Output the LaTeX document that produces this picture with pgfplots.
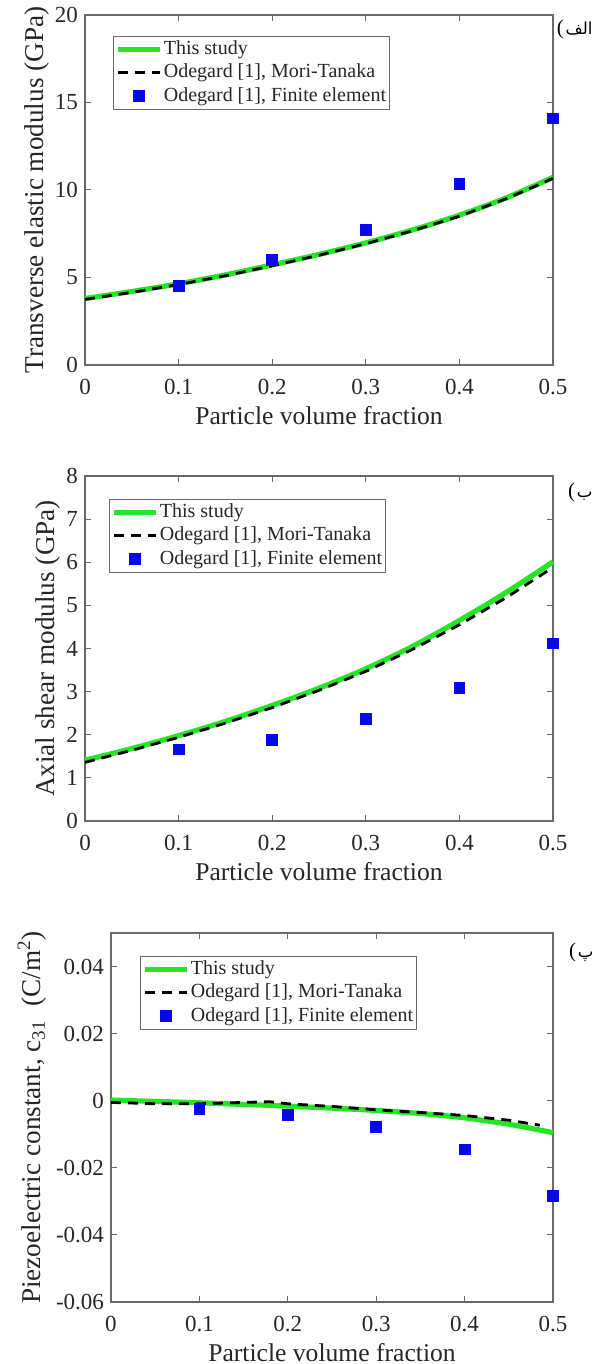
\documentclass[border=0pt]{standalone}
\usepackage{fontspec}
\setmainfont{Liberation Serif}
\newfontfamily\arabicfont[Script=Arabic]{DejaVu Sans}
\TeXXeTstate=1
\usepackage{pgfplots}
\pgfplotsset{compat=1.18}

\definecolor{matgreen}{RGB}{38,228,38}
\definecolor{matblue}{RGB}{8,8,235}
\definecolor{axgray}{RGB}{105,105,105}
\definecolor{txt}{RGB}{38,38,38}

\tikzset{
  tag/.style={anchor=base east, inner sep=0pt, font=\arabicfont\fontsize{8.3}{9}\selectfont, text=black},
  paren/.style={anchor=base east, inner sep=0pt, font=\fontsize{10.5}{12}\selectfont, text=black, xshift=-0.5pt},
}

\pgfplotsset{
  panel/.style={
    scale only axis,
    width=234pt,
    xmin=0, xmax=0.5,
    xtick={0,0.1,0.2,0.3,0.4,0.5},
    tick align=inside,
    axis line style={axgray, line width=0.6pt},
    major tick style={axgray, line width=0.5pt},
    major tick length=2.8pt,
    tick label style={font=\fontsize{11.5}{13}\selectfont, text=txt},
    xticklabel style={yshift=-3.5pt},
    xlabel style={font=\fontsize{12.8}{14}\selectfont, text=txt, yshift=1pt},
    ylabel style={font=\fontsize{13.6}{15}\selectfont, text=txt},
    ylabel shift=-4pt,
    /pgf/number format/assume math mode=true,
    xlabel={Particle volume fraction},
    clip=false,
    legend cell align=left,
    legend style={at={(rel axis cs:0,1)}, anchor=north west,
      draw=axgray, line width=0.5pt, inner sep=1pt,
      font=\fontsize{10}{11}\selectfont, text=txt, row sep=0.8pt,
      nodes={inner sep=0.6pt, text height=7.4pt, text depth=2.3pt}},
    legend image code/.code={\draw[mark repeat=2,mark phase=2,#1]
      plot coordinates {(0pt,0pt) (10.5pt,0pt) (21pt,0pt)};},
  },
  study/.style={color=matgreen, line width=2.6pt, no marks, smooth},
  mt/.style={black, line width=1.4pt, dash pattern=on 5pt off 3.5pt, no marks},
  fe/.style={only marks, mark=square*, mark size=2.7pt, color=matblue},
}

\begin{document}
\begin{tikzpicture}
\path[use as bounding box] (0,0) rectangle (301pt,-682pt);

% (a) transverse elastic modulus
\begin{axis}[panel, at={(42.5pt,-182.5pt)}, anchor=south west, height=175pt,
  ymin=0, ymax=20, ytick={0,5,10,15,20},
  ylabel={Transverse elastic modulus (GPa)},
  legend style={xshift=14pt, yshift=-10.5pt}]
\addplot[study] coordinates {
  (0,3.80) (0.05,4.20) (0.1,4.64) (0.15,5.15) (0.2,5.72) (0.25,6.32)
  (0.3,6.98) (0.35,7.72) (0.4,8.56) (0.45,9.55) (0.5,10.72)};
\addlegendentry{This study}
\addplot[mt] coordinates {
  (0,3.75) (0.05,4.15) (0.1,4.60) (0.15,5.10) (0.2,5.67) (0.25,6.27)
  (0.3,6.93) (0.35,7.67) (0.4,8.50) (0.45,9.50) (0.5,10.66)};
\addlegendentry{Odegard [1], Mori-Tanaka}
\addplot[fe] coordinates {
  (0.1,4.52) (0.2,6.02) (0.3,7.73) (0.4,10.37) (0.5,14.09)};
\addlegendentry{Odegard [1], Finite element}
\node[tag, xshift=20pt, yshift=-10pt] (ta) at (rel axis cs:1,1) {\beginR الف\endR};
\node[paren] at (ta.base west) {(};
\end{axis}

% (b) axial shear modulus
\begin{axis}[panel, at={(42.5pt,-410.5pt)}, anchor=south west, height=172.5pt,
  ymin=0, ymax=8, ytick={0,1,2,3,4,5,6,7,8},
  ylabel={Axial shear modulus (GPa)},
  legend style={xshift=12pt, yshift=-11.5pt}]
\addplot[study] coordinates {
  (0,1.41) (0.05,1.68) (0.1,1.98) (0.15,2.31) (0.2,2.68) (0.25,3.08)
  (0.3,3.53) (0.35,4.05) (0.4,4.65) (0.45,5.30) (0.5,6.01)};
\addlegendentry{This study}
\addplot[mt] coordinates {
  (0,1.36) (0.05,1.64) (0.1,1.94) (0.15,2.27) (0.2,2.63) (0.25,3.03)
  (0.3,3.47) (0.35,3.98) (0.4,4.55) (0.45,5.18) (0.5,5.88)};
\addlegendentry{Odegard [1], Mori-Tanaka}
\addplot[fe] coordinates {
  (0.1,1.66) (0.2,1.89) (0.3,2.37) (0.4,3.08) (0.5,4.12)};
\addlegendentry{Odegard [1], Finite element}
\node[tag, xshift=20pt, yshift=-10.5pt] (tb) at (rel axis cs:1,1) {\beginR ب\endR};
\node[paren] at (tb.base west) {(};
\end{axis}

% (c) piezoelectric constant
\begin{axis}[panel, at={(55.5pt,-651pt)}, anchor=south west, width=221pt, height=184.5pt,
  ymin=-0.06, ymax=0.05, ytick={-0.06,-0.04,-0.02,0,0.02,0.04},
  scaled y ticks=false,
  yticklabel style={/pgf/number format/fixed, /pgf/number format/precision=2},
  ylabel={Piezoelectric constant, c\textsubscript{31}~~(C/m\textsuperscript{2})},
  ylabel shift=-2pt,
  legend style={xshift=14.5pt, yshift=-11.5pt}]
\addplot[study] coordinates {
  (0,0.0002) (0.05,-0.0002) (0.1,-0.0006) (0.15,-0.0011) (0.2,-0.0016)
  (0.25,-0.0022) (0.3,-0.0029) (0.35,-0.0038) (0.4,-0.0051) (0.45,-0.0070) (0.5,-0.0095)};
\addlegendentry{This study}
\addplot[mt] coordinates {
  (0,-0.0005) (0.05,-0.0009) (0.1,-0.0009) (0.15,-0.0005) (0.18,-0.0003)
  (0.2,-0.0009) (0.25,-0.0017) (0.3,-0.0027) (0.35,-0.0035) (0.4,-0.0044)
  (0.45,-0.0058) (0.485,-0.0073)};
\addlegendentry{Odegard [1], Mori-Tanaka}
\addplot[fe] coordinates {
  (0.1,-0.0024) (0.2,-0.0042) (0.3,-0.0077) (0.4,-0.0145) (0.5,-0.0284)};
\addlegendentry{Odegard [1], Finite element}
\node[tag, xshift=20.5pt, yshift=-12pt] (tc) at (rel axis cs:1,1) {\beginR پ\endR};
\node[paren] at (tc.base west) {(};
\end{axis}
\end{tikzpicture}
\end{document}
